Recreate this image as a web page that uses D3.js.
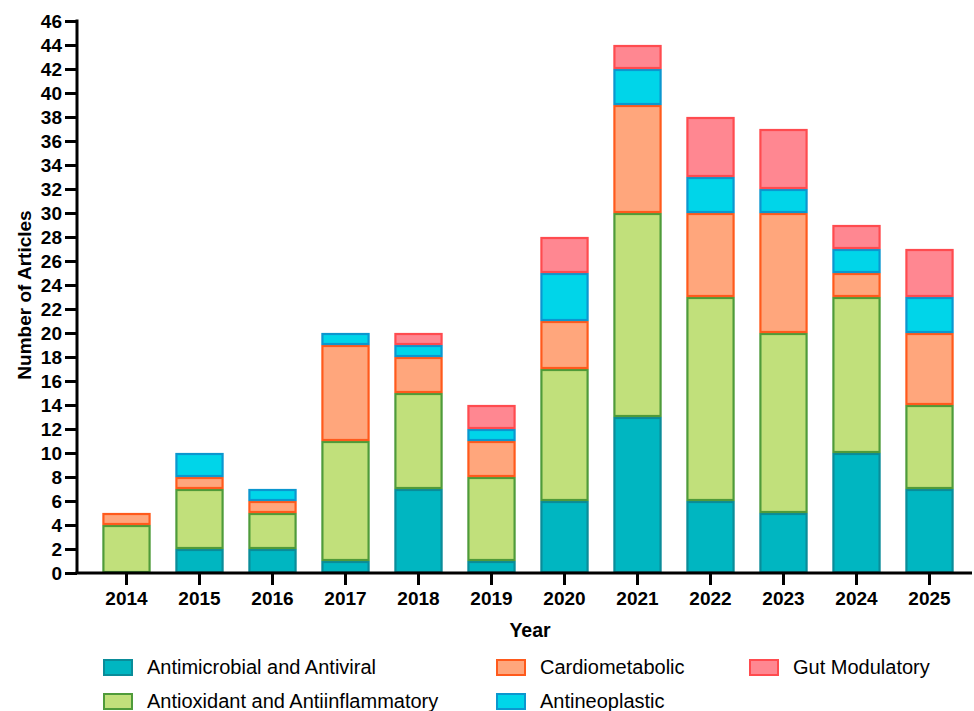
<!DOCTYPE html>
<html><head><meta charset="utf-8">
<script src="https://cdn.jsdelivr.net/npm/d3@7"></script>
<style>body{margin:0;background:#fff}svg{display:block}</style>
</head><body>
<svg id="c" width="974" height="711"></svg>
<script>
const years = ["2014","2015","2016","2017","2018","2019","2020","2021","2022","2023","2024","2025"];
const seriesNames = ["Antimicrobial and Antiviral","Antioxidant and Antiinflammatory","Cardiometabolic","Antineoplastic","Gut Modulatory"];
const antimicrobial = [0,2,2,1,7,1,6,13,6,5,10,7];
const antioxidant   = [4,5,3,10,8,7,11,17,17,15,13,7];
const cardiometabolic = [1,1,1,8,3,3,4,9,7,10,2,6];
const antineoplastic  = [0,2,1,1,1,1,4,3,3,2,2,3];
const gut = [0,0,0,0,1,2,3,2,5,5,2,4];
const yTicks = d3.range(0,47,2);
const fills = ["#00B6C1","#C1E07B","#FFA67C","#00D5E9","#FF8791"];
const strokes = ["#0A8C99","#4F9B3A","#FF5A1C","#0B97CF","#FF4B4F"];

const svg = d3.select("#c");
const font = "'Liberation Sans', Arial, sans-serif";
const x = d3.scaleBand().domain(years).range([90,966]).paddingInner(0.34).paddingOuter(0.17);
const y = d3.scaleLinear().domain([0,46]).range([573,21]);

const table = years.map((yr,i)=>({year:yr, s0:antimicrobial[i], s1:antioxidant[i], s2:cardiometabolic[i], s3:antineoplastic[i], s4:gut[i]}));
const stack = d3.stack().keys(["s0","s1","s2","s3","s4"])(table);

const g = svg.append("g");
stack.forEach((layer,k)=>{
  g.selectAll(null).data(layer.filter(d=>d[1]-d[0]>0)).enter().append("rect")
    .attr("x", d=>x(d.data.year)+1)
    .attr("width", x.bandwidth()-2)
    .attr("y", d=>y(d[1])+1)
    .attr("height", d=>y(d[0])-y(d[1])-2)
    .attr("fill", fills[k]).attr("stroke", strokes[k]).attr("stroke-width",2.2);
});

// y axis
const ya = svg.append("g").attr("transform","translate(77,0)")
  .call(d3.axisLeft(y).tickValues(yTicks).tickSize(12).tickPadding(3));
ya.select(".domain").attr("stroke","#000").attr("stroke-width",3).attr("d","M0,573.5V19.5");
ya.selectAll(".tick line").attr("stroke","#000").attr("stroke-width",3);
ya.selectAll(".tick text").attr("font-family",font).attr("font-weight","bold").attr("font-size",19).attr("fill","#000");

// x axis
const xa = svg.append("g").attr("transform","translate(0,573)")
  .call(d3.axisBottom(x).tickSize(12).tickPadding(7));
xa.select(".domain").attr("stroke","#000").attr("stroke-width",3).attr("d","M75.5,0H972");
xa.selectAll(".tick line").attr("stroke","#000").attr("stroke-width",3);
xa.selectAll(".tick text").attr("font-family",font).attr("font-weight","bold").attr("font-size",19).attr("fill","#000");

svg.append("text").attr("x",530).attr("y",637).attr("text-anchor","middle")
  .attr("font-family",font).attr("font-weight","bold").attr("font-size",19.5).text("Year");
svg.append("text").attr("transform","translate(30.5,295) rotate(-90)").attr("text-anchor","middle")
  .attr("font-family",font).attr("font-weight","bold").attr("font-size",19).text("Number of Articles");

// legend
const legendPos = [[103,659],[103,693],[496,659],[496,693],[749,659]];
seriesNames.forEach((n,k)=>{
  const [lx,ly] = legendPos[k];
  svg.append("rect").attr("x",lx+1).attr("y",ly+1).attr("width",28).attr("height",15)
    .attr("fill",fills[k]).attr("stroke",strokes[k]).attr("stroke-width",2);
  svg.append("text").attr("x",lx+44).attr("y",ly+15).attr("font-family",font).attr("font-size",20).attr("fill","#000").text(n);
});
</script>
</body></html>
